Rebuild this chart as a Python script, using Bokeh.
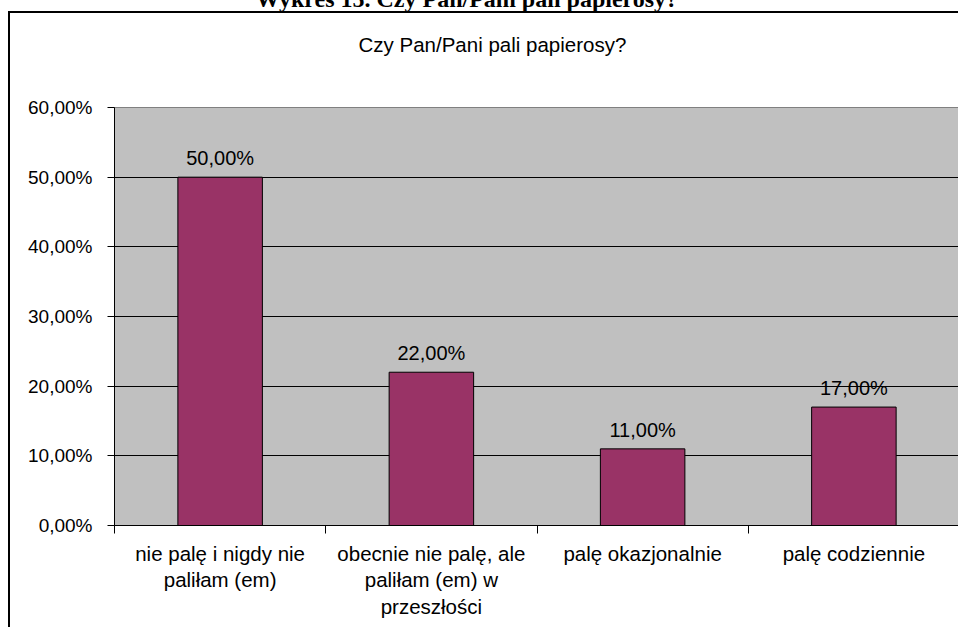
from bokeh.plotting import figure
from bokeh.models import ColumnDataSource, FixedTicker, LabelSet, Title, Div
from bokeh.layouts import column
from bokeh.core.properties import value
from bokeh.embed import file_html
from bokeh.resources import INLINE

# ---- data ----
categories = ["nie palę i nigdy nie\npaliłam (em)",
              "obecnie nie palę, ale\npaliłam (em) w\nprzeszłości",
              "palę okazjonalnie",
              "palę codziennie"]
values = [0.50, 0.22, 0.11, 0.17]
y_ticks = [0.0, 0.1, 0.2, 0.3, 0.4, 0.5, 0.6]
y_tick_labels = ["0,00%", "10,00%", "20,00%", "30,00%", "40,00%", "50,00%", "60,00%"]
chart_title = "Czy Pan/Pani pali papierosy?"
page_title = "Wykres 15. Czy Pan/Pani pali papierosy?"

FONT = "Liberation Sans"
xs = [i + 0.5 for i in range(len(categories))]
value_labels = [f"{v * 100:.2f}".replace(".", ",") + "%" for v in values]
src = ColumnDataSource(dict(x=xs, top=values, lab=value_labels))

# cut-off page header above the chart box (only its lower edge is visible)
header = Div(
    text=('<div style="font-family: \'Liberation Serif\'; font-weight: bold; '
          'font-size: 24px; line-height: 24px; margin-top: -36px; '
          'position: relative; top: -10px; '
          'text-align: center; white-space: nowrap; width: 924px;">'
          + page_title + '</div>'),
    width=954, height=1)

W, H = 950, 616
FL, FT, FB = 104, 94, 512  # frame left / top / bottom in canvas px

p = figure(width=W, height=H, output_backend="svg", toolbar_location=None,
           title=None,
           x_range=(0, len(categories)), y_range=(0, 0.6),
           min_border_left=FL, min_border_right=1, min_border_top=FT,
           min_border_bottom=H - FB)
p.styles = {"margin-left": "8px", "border-left": "2px solid black",
            "border-top": "2px solid black"}
p.background_fill_color = "#C0C0C0"
p.border_fill_color = "white"
p.outline_line_color = "#808080"
p.outline_line_width = 1

# blank spacer panel next to the plot area, then the chart title above it
p.add_layout(Title(text=" ", text_font=FONT, text_font_size="20px",
                   text_color="white", standoff=23), "above")
p.add_layout(Title(text=chart_title, align="left", offset=244, standoff=10,
                   vertical_align="bottom", text_font=FONT,
                   text_font_style="normal", text_font_size="20.5px",
                   text_color="black"), "above")

p.vbar(x="x", top="top", width=0.4, bottom=0, source=src,
       fill_color="#993366", line_color="black", line_width=1)

p.add_layout(LabelSet(x="x", y="top", text="lab", source=src,
                      y_offset=19, text_align="center", text_baseline="middle",
                      text_font=value(FONT), text_font_size=value("20px"),
                      text_color="black"))

# y axis
p.yaxis.ticker = FixedTicker(ticks=y_ticks)
p.yaxis.major_label_overrides = {t: l for t, l in zip(y_ticks, y_tick_labels)}
p.yaxis.major_label_text_font = FONT
p.yaxis.major_label_text_font_size = "19px"
p.yaxis.major_label_text_color = "black"
p.yaxis.major_tick_out = 7
p.yaxis.major_tick_in = 0
p.yaxis.minor_tick_line_color = None
p.yaxis.major_label_standoff = 15
p.yaxis.axis_line_color = "black"
p.yaxis.major_tick_line_color = "black"

# x axis
p.xaxis.ticker = FixedTicker(ticks=xs, minor_ticks=list(range(len(categories) + 1)))
p.xaxis.major_label_overrides = {x: c for x, c in zip(xs, categories)}
p.xaxis.major_label_text_font = FONT
p.xaxis.major_label_text_font_size = "20.5px"
p.xaxis.major_label_text_color = "black"
p.xaxis.major_label_text_line_height = 1.16
p.xaxis.major_tick_out = 0
p.xaxis.major_tick_in = 0
p.xaxis.minor_tick_out = 8
p.xaxis.minor_tick_in = 0
p.xaxis.minor_tick_line_color = "black"
p.xaxis.major_label_standoff = 8
p.xaxis.axis_line_color = "black"

p.xgrid.grid_line_color = None
p.ygrid.grid_line_color = "black"
p.ygrid.grid_line_width = 1

layout = column(header, p, spacing=0)
open("out.html", "w").write(file_html(layout, INLINE))
